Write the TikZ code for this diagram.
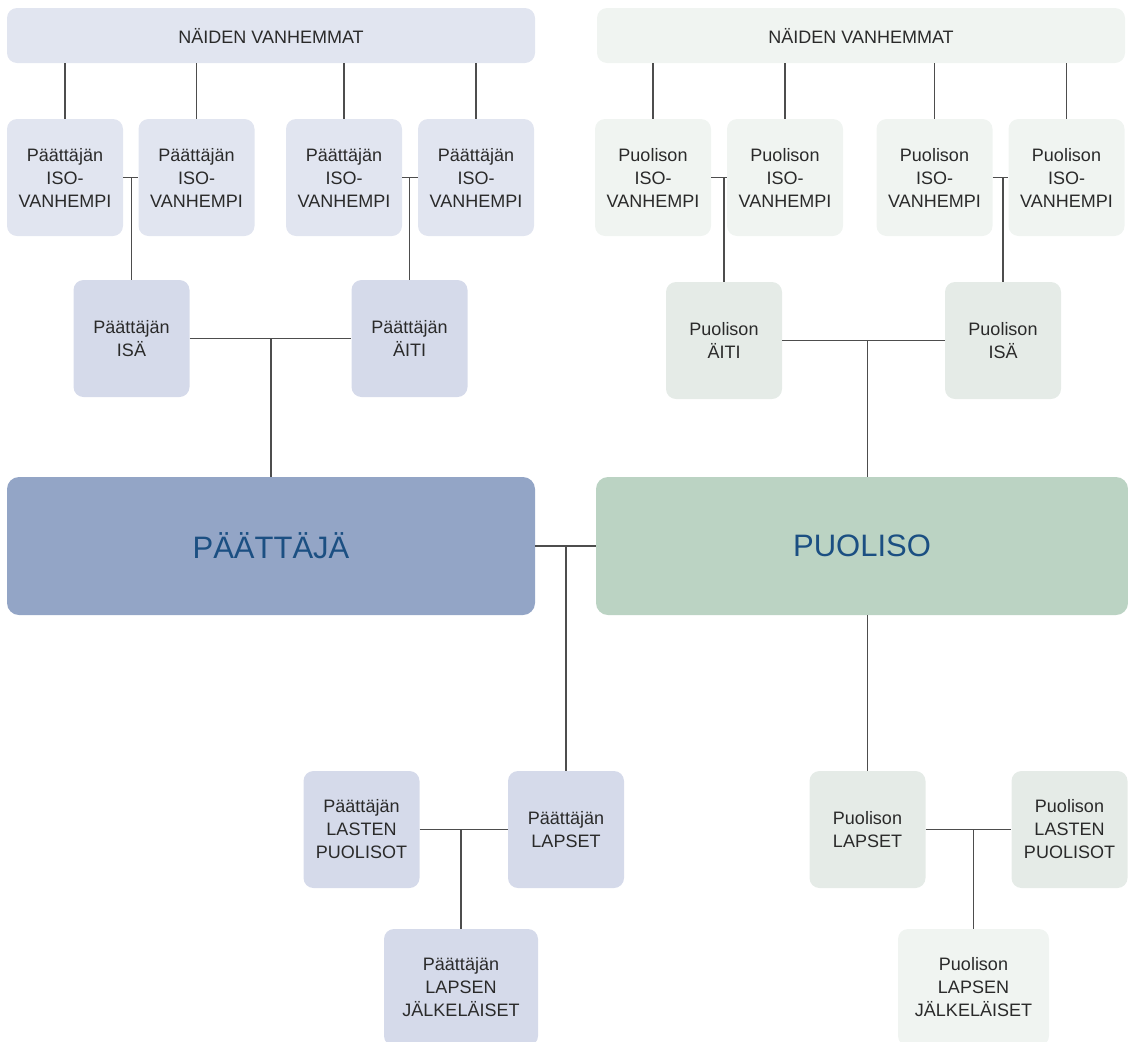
\documentclass[tikz,border=0pt]{standalone}
\usepackage{fontspec}
\setmainfont{Liberation Sans}
\usetikzlibrary{calc}
\definecolor{pbar}{HTML}{E1E5F0}
\definecolor{pmid}{HTML}{D5DAEA}
\definecolor{pdark}{HTML}{93A5C6}
\definecolor{sbar}{HTML}{F0F4F1}
\definecolor{smid}{HTML}{E5EBE7}
\definecolor{sdark}{HTML}{BBD3C3}
\definecolor{maintext}{HTML}{1B4F82}
\definecolor{boxtext}{HTML}{2A2A2A}
\definecolor{linegray}{HTML}{4D4D4D}
\tikzset{%
  box/.style={shape=rectangle,rounded corners=10,inner sep=0,align=center,text=boxtext,
    font=\fontsize{18}{23}\selectfont},
  smallbox/.style={box,minimum width=116,minimum height=117},
  barbox/.style={box,minimum width=528,minimum height=55},
  mainbox/.style={box,rounded corners=12,minimum height=138,text=maintext,
    font=\fontsize{31}{36}\selectfont},
  link/.style={draw=linegray,line width=1.3}
}
\begin{document}
\begin{tikzpicture}[x=1pt,y=-1pt]
  \useasboundingbox (0,0) rectangle (1128,1042);
  \node[barbox,fill=pbar] (pbar) at (271,35.5) {NÄIDEN VANHEMMAT};
  \node[barbox,fill=sbar] (sbar) at (861,35.5) {NÄIDEN VANHEMMAT};
  \path[every node/.style={smallbox,fill=pbar}]
    (65,177.5)  node (pgp1) {Päättäjän\\ISO-\\VANHEMPI}
    (196.5,177.5) node (pgp2) {Päättäjän\\ISO-\\VANHEMPI}
    (344,177.5) node (pgp3) {Päättäjän\\ISO-\\VANHEMPI}
    (476,177.5) node (pgp4) {Päättäjän\\ISO-\\VANHEMPI};
  \path[every node/.style={smallbox,fill=sbar}]
    (653,177.5)  node (sgp1) {Puolison\\ISO-\\VANHEMPI}
    (785,177.5)  node (sgp2) {Puolison\\ISO-\\VANHEMPI}
    (934.5,177.5) node (sgp3) {Puolison\\ISO-\\VANHEMPI}
    (1066.5,177.5) node (sgp4) {Puolison\\ISO-\\VANHEMPI};
  \node[smallbox,fill=pmid] (pisa) at (131.5,338.5) {Päättäjän\\ISÄ};
  \node[smallbox,fill=pmid] (paiti) at (409.5,338.5) {Päättäjän\\ÄITI};
  \node[smallbox,fill=smid] (saiti) at (724,340.5) {Puolison\\ÄITI};
  \node[smallbox,fill=smid] (sisa) at (1003,340.5) {Puolison\\ISÄ};
  \node[mainbox,fill=pdark,minimum width=528] (pmain) at (271,546) {PÄÄTTÄJÄ};
  \node[mainbox,fill=sdark,minimum width=532] (smain) at (862,546) {PUOLISO};
  \node[smallbox,fill=pmid] (plapset) at (566,829.5) {Päättäjän\\LAPSET};
  \node[smallbox,fill=pmid] (ppuol) at (361.5,829.5) {Päättäjän\\LASTEN\\PUOLISOT};
  \node[smallbox,fill=pmid,minimum width=154] (pjalk) at (461,987.5) {Päättäjän\\LAPSEN\\JÄLKELÄISET};
  \node[smallbox,fill=smid] (slapset) at (867.5,829.5) {Puolison\\LAPSET};
  \node[smallbox,fill=smid] (spuol) at (1069.5,829.5) {Puolison\\LASTEN\\PUOLISOT};
  \node[smallbox,fill=sbar,minimum width=151] (sjalk) at (973.5,987.5) {Puolison\\LAPSEN\\JÄLKELÄISET};
  \foreach \g in {pgp1,pgp2,pgp3,pgp4}
    \draw[link] (\g.north) -- (\g.north |- pbar.south);
  \foreach \g in {sgp1,sgp2,sgp3,sgp4}
    \draw[link] (\g.north) -- (\g.north |- sbar.south);
  \draw[link] (pgp1) -- (pgp2);
  \draw[link] (pgp3) -- (pgp4);
  \draw[link] (pisa.north) -- (pisa.north |- pgp1.east);
  \draw[link] (paiti.north) -- (paiti.north |- pgp3.east);
  \draw[link] (sgp1) -- (sgp2);
  \draw[link] (sgp3) -- (sgp4);
  \draw[link] (saiti.north) -- (saiti.north |- sgp1.east);
  \draw[link] (sisa.north) -- (sisa.north |- sgp3.east);
  \draw[link] (pisa) -- (paiti);
  \draw[link] (pmain.north) -- (pmain.north |- pisa.east);
  \draw[link] (saiti) -- (sisa);
  \draw[link] (smain.north -| slapset.north) -- (saiti.east -| slapset.north);
  \draw[link] (pmain) -- (smain);
  \draw[link] (plapset.north) -- (plapset.north |- pmain.east);
  \draw[link] (slapset.north) -- (slapset.north |- smain.south);
  \draw[link] (ppuol) -- (plapset);
  \draw[link] (pjalk.north) -- (pjalk.north |- plapset.west);
  \draw[link] (slapset) -- (spuol);
  \draw[link] (sjalk.north) -- (sjalk.north |- slapset.east);
\end{tikzpicture}
\end{document}
